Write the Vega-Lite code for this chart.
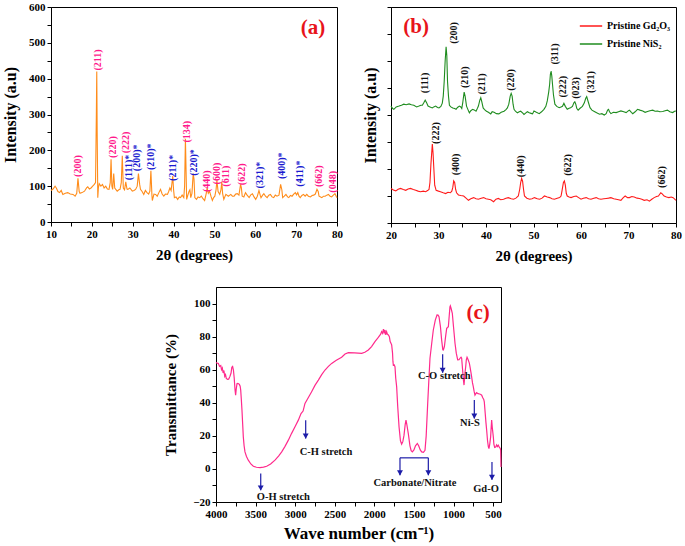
{
  "$schema": "https://vega.github.io/schema/vega-lite/v6.json",
  "padding": {"left": 2, "top": 0, "right": 0, "bottom": 2},
  "autosize": {"type": "pad"},
  "config": {
    "font": "Liberation Serif",
    "view": {"stroke": "#000", "strokeWidth": 1},
    "axis": {"domainColor": "#000", "tickColor": "#000", "tickSize": 4, "labelFont": "Liberation Serif", "labelFontWeight": "bold", "labelFontSize": 11, "labelColor": "#000", "titleFont": "Liberation Serif", "titleFontWeight": "bold", "titleColor": "#000", "grid": false, "labelPadding": 2, "labelOverlap": false, "labelFlush": false, "labelBound": false},
    "text": {"font": "Liberation Serif", "fontWeight": "bold"}
  },
  "resolve": {"scale": {"color": "independent"}, "legend": {"color": "independent"}},
  "datasets": {
    "xrdA": [
      {"t":10,"i":88},{"t":10.5,"i":92},{"t":11,"i":100},{"t":11.3,"i":95},{"t":11.7,"i":85},{"t":12.1,"i":82},{"t":12.5,"i":88},{"t":12.9,"i":77},{"t":13.5,"i":80},{"t":14.1,"i":82},{"t":14.7,"i":78},{"t":15.4,"i":77},{"t":15.9,"i":72},{"t":16.3,"i":80},{"t":16.6,"i":122},{"t":16.9,"i":85},{"t":17.1,"i":80},{"t":17.6,"i":82},{"t":18.2,"i":86},{"t":18.7,"i":95},{"t":19.0,"i":98},{"t":19.4,"i":92},{"t":19.8,"i":95},{"t":20.2,"i":100},{"t":20.6,"i":105},{"t":20.9,"i":110},{"t":21.1,"i":300},{"t":21.2,"i":420},{"t":21.3,"i":250},{"t":21.45,"i":68},{"t":21.6,"i":95},{"t":21.8,"i":107},{"t":22.2,"i":100},{"t":22.6,"i":105},{"t":23.0,"i":95},{"t":23.4,"i":100},{"t":23.8,"i":92},{"t":24.2,"i":91},{"t":24.5,"i":110},{"t":24.7,"i":175},{"t":24.9,"i":100},{"t":25.1,"i":91},{"t":25.35,"i":135},{"t":25.6,"i":95},{"t":26.2,"i":86},{"t":26.6,"i":90},{"t":26.9,"i":91},{"t":27.2,"i":110},{"t":27.45,"i":185},{"t":27.7,"i":95},{"t":28.0,"i":90},{"t":28.3,"i":112},{"t":28.6,"i":92},{"t":28.8,"i":91},{"t":29.3,"i":95},{"t":29.9,"i":86},{"t":30.3,"i":88},{"t":30.7,"i":91},{"t":31.1,"i":100},{"t":31.4,"i":135},{"t":31.7,"i":105},{"t":31.9,"i":91},{"t":32.3,"i":85},{"t":32.7,"i":77},{"t":33.1,"i":88},{"t":33.5,"i":82},{"t":33.9,"i":78},{"t":34.2,"i":86},{"t":34.45,"i":143},{"t":34.7,"i":75},{"t":34.8,"i":60},{"t":35.2,"i":78},{"t":35.6,"i":77},{"t":36.0,"i":72},{"t":36.4,"i":82},{"t":36.8,"i":91},{"t":37.2,"i":78},{"t":37.6,"i":72},{"t":38.0,"i":78},{"t":38.5,"i":77},{"t":38.8,"i":85},{"t":39.1,"i":95},{"t":39.4,"i":88},{"t":39.8,"i":128},{"t":40.0,"i":90},{"t":40.2,"i":68},{"t":40.6,"i":70},{"t":41.0,"i":63},{"t":41.4,"i":70},{"t":41.7,"i":68},{"t":42.1,"i":75},{"t":42.5,"i":68},{"t":42.7,"i":100},{"t":42.9,"i":232},{"t":43.1,"i":120},{"t":43.2,"i":63},{"t":43.5,"i":75},{"t":43.8,"i":86},{"t":44.0,"i":90},{"t":44.2,"i":68},{"t":44.5,"i":80},{"t":44.8,"i":135},{"t":45.0,"i":120},{"t":45.2,"i":68},{"t":45.6,"i":63},{"t":46.0,"i":70},{"t":46.4,"i":68},{"t":46.8,"i":72},{"t":47.2,"i":65},{"t":47.6,"i":60},{"t":48.0,"i":80},{"t":48.2,"i":95},{"t":48.5,"i":80},{"t":48.8,"i":86},{"t":49.2,"i":70},{"t":49.5,"i":60},{"t":49.8,"i":68},{"t":50.1,"i":72},{"t":50.4,"i":90},{"t":50.6,"i":116},{"t":50.9,"i":85},{"t":51.3,"i":77},{"t":51.6,"i":90},{"t":51.8,"i":112},{"t":52.0,"i":80},{"t":52.3,"i":63},{"t":52.8,"i":77},{"t":53.4,"i":72},{"t":54.0,"i":77},{"t":54.4,"i":72},{"t":54.8,"i":72},{"t":55.2,"i":78},{"t":55.6,"i":79},{"t":56.0,"i":75},{"t":56.4,"i":105},{"t":56.6,"i":95},{"t":56.8,"i":72},{"t":57.2,"i":70},{"t":57.6,"i":82},{"t":58.0,"i":75},{"t":58.5,"i":68},{"t":58.9,"i":76},{"t":59.3,"i":79},{"t":59.7,"i":70},{"t":60.1,"i":63},{"t":60.5,"i":72},{"t":60.9,"i":88},{"t":61.2,"i":75},{"t":61.4,"i":68},{"t":61.8,"i":75},{"t":62.1,"i":79},{"t":62.5,"i":72},{"t":62.9,"i":68},{"t":63.3,"i":75},{"t":63.7,"i":77},{"t":64.1,"i":70},{"t":64.5,"i":68},{"t":64.9,"i":75},{"t":65.3,"i":72},{"t":65.8,"i":75},{"t":66.2,"i":105},{"t":66.5,"i":90},{"t":66.7,"i":68},{"t":67.1,"i":72},{"t":67.5,"i":77},{"t":67.9,"i":70},{"t":68.2,"i":68},{"t":68.6,"i":74},{"t":69.0,"i":72},{"t":69.4,"i":78},{"t":69.8,"i":82},{"t":70.1,"i":76},{"t":70.4,"i":82},{"t":70.7,"i":72},{"t":71.0,"i":68},{"t":71.4,"i":74},{"t":71.8,"i":77},{"t":72.2,"i":72},{"t":72.6,"i":77},{"t":73.0,"i":72},{"t":73.5,"i":70},{"t":73.9,"i":74},{"t":74.3,"i":75},{"t":74.7,"i":78},{"t":75.1,"i":91},{"t":75.4,"i":85},{"t":75.6,"i":72},{"t":76.0,"i":70},{"t":76.3,"i":68},{"t":76.7,"i":72},{"t":77.1,"i":72},{"t":77.5,"i":75},{"t":77.9,"i":77},{"t":78.3,"i":72},{"t":78.7,"i":70},{"t":79.1,"i":75},{"t":79.5,"i":79},{"t":79.8,"i":72},{"t":80,"i":68}
    ],
    "labelsA": [
      {"hkl":"(200)","t":16.6,"i":156,"ph":"Gd"},{"hkl":"(211)","t":21.5,"i":452,"ph":"Gd"},{"hkl":"(220)","t":25.1,"i":209,"ph":"Gd"},{"hkl":"(222)","t":28.4,"i":222,"ph":"Gd"},{"hkl":"(111)*","t":29.2,"i":152,"ph":"Ni"},{"hkl":"(200)*","t":31.1,"i":179,"ph":"Ni"},{"hkl":"(210)*","t":34.5,"i":182,"ph":"Ni"},{"hkl":"(211)*","t":39.9,"i":151,"ph":"Ni"},{"hkl":"(134)","t":43.4,"i":252,"ph":"Gd"},{"hkl":"(220)*","t":45.1,"i":166,"ph":"Ni"},{"hkl":"(440)","t":48.2,"i":114,"ph":"Gd"},{"hkl":"(600)","t":50.7,"i":135,"ph":"Gd"},{"hkl":"(611)","t":52.9,"i":128,"ph":"Gd"},{"hkl":"(622)","t":56.8,"i":133,"ph":"Gd"},{"hkl":"(321)*","t":61.2,"i":131,"ph":"Ni"},{"hkl":"(400)*","t":66.5,"i":157,"ph":"Ni"},{"hkl":"(411)*","t":70.9,"i":135,"ph":"Ni"},{"hkl":"(662)","t":75.6,"i":128,"ph":"Gd"},{"hkl":"(048)","t":78.9,"i":112,"ph":"Gd"}
    ],
    "xrdB": [
      {"s":"Pristine Gd₂O₃","t":20,"i":128},{"s":"Pristine Gd₂O₃","t":20.5,"i":122},{"s":"Pristine Gd₂O₃","t":21.0,"i":119},{"s":"Pristine Gd₂O₃","t":21.5,"i":125},{"s":"Pristine Gd₂O₃","t":22.0,"i":128},{"s":"Pristine Gd₂O₃","t":22.6,"i":124},{"s":"Pristine Gd₂O₃","t":23.1,"i":121},{"s":"Pristine Gd₂O₃","t":23.6,"i":126},{"s":"Pristine Gd₂O₃","t":24.1,"i":128},{"s":"Pristine Gd₂O₃","t":24.7,"i":124},{"s":"Pristine Gd₂O₃","t":25.2,"i":121},{"s":"Pristine Gd₂O₃","t":25.7,"i":118},{"s":"Pristine Gd₂O₃","t":26.2,"i":116},{"s":"Pristine Gd₂O₃","t":26.8,"i":118},{"s":"Pristine Gd₂O₃","t":27.3,"i":116},{"s":"Pristine Gd₂O₃","t":27.7,"i":120},{"s":"Pristine Gd₂O₃","t":28.0,"i":124},{"s":"Pristine Gd₂O₃","t":28.2,"i":150},{"s":"Pristine Gd₂O₃","t":28.4,"i":217},{"s":"Pristine Gd₂O₃","t":28.7,"i":292},{"s":"Pristine Gd₂O₃","t":28.85,"i":260},{"s":"Pristine Gd₂O₃","t":29.0,"i":208},{"s":"Pristine Gd₂O₃","t":29.2,"i":140},{"s":"Pristine Gd₂O₃","t":29.5,"i":121},{"s":"Pristine Gd₂O₃","t":30.0,"i":118},{"s":"Pristine Gd₂O₃","t":30.4,"i":116},{"s":"Pristine Gd₂O₃","t":31.0,"i":112},{"s":"Pristine Gd₂O₃","t":31.5,"i":109},{"s":"Pristine Gd₂O₃","t":32.0,"i":114},{"s":"Pristine Gd₂O₃","t":32.5,"i":112},{"s":"Pristine Gd₂O₃","t":32.8,"i":118},{"s":"Pristine Gd₂O₃","t":33.0,"i":131},{"s":"Pristine Gd₂O₃","t":33.2,"i":156},{"s":"Pristine Gd₂O₃","t":33.4,"i":150},{"s":"Pristine Gd₂O₃","t":33.6,"i":125},{"s":"Pristine Gd₂O₃","t":33.8,"i":112},{"s":"Pristine Gd₂O₃","t":34.2,"i":104},{"s":"Pristine Gd₂O₃","t":34.7,"i":102},{"s":"Pristine Gd₂O₃","t":35.3,"i":100},{"s":"Pristine Gd₂O₃","t":35.8,"i":92},{"s":"Pristine Gd₂O₃","t":36.3,"i":84},{"s":"Pristine Gd₂O₃","t":36.8,"i":90},{"s":"Pristine Gd₂O₃","t":37.4,"i":94},{"s":"Pristine Gd₂O₃","t":37.9,"i":90},{"s":"Pristine Gd₂O₃","t":38.4,"i":88},{"s":"Pristine Gd₂O₃","t":39.0,"i":92},{"s":"Pristine Gd₂O₃","t":39.5,"i":94},{"s":"Pristine Gd₂O₃","t":40.0,"i":90},{"s":"Pristine Gd₂O₃","t":40.5,"i":88},{"s":"Pristine Gd₂O₃","t":41.0,"i":86},{"s":"Pristine Gd₂O₃","t":41.6,"i":79},{"s":"Pristine Gd₂O₃","t":42.1,"i":88},{"s":"Pristine Gd₂O₃","t":42.6,"i":91},{"s":"Pristine Gd₂O₃","t":43.1,"i":86},{"s":"Pristine Gd₂O₃","t":43.7,"i":88},{"s":"Pristine Gd₂O₃","t":44.2,"i":92},{"s":"Pristine Gd₂O₃","t":44.7,"i":94},{"s":"Pristine Gd₂O₃","t":45.3,"i":90},{"s":"Pristine Gd₂O₃","t":45.8,"i":88},{"s":"Pristine Gd₂O₃","t":46.3,"i":92},{"s":"Pristine Gd₂O₃","t":46.8,"i":100},{"s":"Pristine Gd₂O₃","t":47.1,"i":125},{"s":"Pristine Gd₂O₃","t":47.3,"i":150},{"s":"Pristine Gd₂O₃","t":47.5,"i":165},{"s":"Pristine Gd₂O₃","t":47.7,"i":155},{"s":"Pristine Gd₂O₃","t":47.9,"i":125},{"s":"Pristine Gd₂O₃","t":48.1,"i":100},{"s":"Pristine Gd₂O₃","t":48.6,"i":92},{"s":"Pristine Gd₂O₃","t":49.2,"i":88},{"s":"Pristine Gd₂O₃","t":49.7,"i":90},{"s":"Pristine Gd₂O₃","t":50.2,"i":94},{"s":"Pristine Gd₂O₃","t":50.8,"i":90},{"s":"Pristine Gd₂O₃","t":51.3,"i":88},{"s":"Pristine Gd₂O₃","t":51.8,"i":92},{"s":"Pristine Gd₂O₃","t":52.3,"i":100},{"s":"Pristine Gd₂O₃","t":52.9,"i":96},{"s":"Pristine Gd₂O₃","t":53.4,"i":94},{"s":"Pristine Gd₂O₃","t":53.9,"i":90},{"s":"Pristine Gd₂O₃","t":54.4,"i":88},{"s":"Pristine Gd₂O₃","t":55.0,"i":92},{"s":"Pristine Gd₂O₃","t":55.5,"i":94},{"s":"Pristine Gd₂O₃","t":55.8,"i":100},{"s":"Pristine Gd₂O₃","t":56.0,"i":119},{"s":"Pristine Gd₂O₃","t":56.3,"i":150},{"s":"Pristine Gd₂O₃","t":56.5,"i":156},{"s":"Pristine Gd₂O₃","t":56.7,"i":140},{"s":"Pristine Gd₂O₃","t":56.9,"i":110},{"s":"Pristine Gd₂O₃","t":57.1,"i":100},{"s":"Pristine Gd₂O₃","t":57.5,"i":96},{"s":"Pristine Gd₂O₃","t":57.9,"i":94},{"s":"Pristine Gd₂O₃","t":58.5,"i":98},{"s":"Pristine Gd₂O₃","t":59.0,"i":100},{"s":"Pristine Gd₂O₃","t":59.5,"i":94},{"s":"Pristine Gd₂O₃","t":60.0,"i":88},{"s":"Pristine Gd₂O₃","t":60.5,"i":92},{"s":"Pristine Gd₂O₃","t":61.1,"i":94},{"s":"Pristine Gd₂O₃","t":61.6,"i":90},{"s":"Pristine Gd₂O₃","t":62.1,"i":88},{"s":"Pristine Gd₂O₃","t":62.7,"i":92},{"s":"Pristine Gd₂O₃","t":63.2,"i":94},{"s":"Pristine Gd₂O₃","t":63.7,"i":90},{"s":"Pristine Gd₂O₃","t":64.2,"i":88},{"s":"Pristine Gd₂O₃","t":64.8,"i":90},{"s":"Pristine Gd₂O₃","t":65.3,"i":91},{"s":"Pristine Gd₂O₃","t":65.8,"i":92},{"s":"Pristine Gd₂O₃","t":66.3,"i":94},{"s":"Pristine Gd₂O₃","t":66.9,"i":90},{"s":"Pristine Gd₂O₃","t":67.4,"i":88},{"s":"Pristine Gd₂O₃","t":67.9,"i":86},{"s":"Pristine Gd₂O₃","t":68.4,"i":84},{"s":"Pristine Gd₂O₃","t":68.9,"i":94},{"s":"Pristine Gd₂O₃","t":69.3,"i":100},{"s":"Pristine Gd₂O₃","t":69.8,"i":94},{"s":"Pristine Gd₂O₃","t":70.2,"i":94},{"s":"Pristine Gd₂O₃","t":70.7,"i":98},{"s":"Pristine Gd₂O₃","t":71.2,"i":96},{"s":"Pristine Gd₂O₃","t":71.8,"i":92},{"s":"Pristine Gd₂O₃","t":72.3,"i":91},{"s":"Pristine Gd₂O₃","t":72.8,"i":88},{"s":"Pristine Gd₂O₃","t":73.3,"i":84},{"s":"Pristine Gd₂O₃","t":73.9,"i":86},{"s":"Pristine Gd₂O₃","t":74.4,"i":81},{"s":"Pristine Gd₂O₃","t":74.9,"i":88},{"s":"Pristine Gd₂O₃","t":75.4,"i":94},{"s":"Pristine Gd₂O₃","t":75.9,"i":98},{"s":"Pristine Gd₂O₃","t":76.3,"i":100},{"s":"Pristine Gd₂O₃","t":76.8,"i":112},{"s":"Pristine Gd₂O₃","t":77.1,"i":108},{"s":"Pristine Gd₂O₃","t":77.5,"i":100},{"s":"Pristine Gd₂O₃","t":78.0,"i":96},{"s":"Pristine Gd₂O₃","t":78.5,"i":94},{"s":"Pristine Gd₂O₃","t":79.0,"i":96},{"s":"Pristine Gd₂O₃","t":79.4,"i":94},{"s":"Pristine Gd₂O₃","t":80,"i":84},
      {"s":"Pristine NiS₂","t":20,"i":433},{"s":"Pristine NiS₂","t":20.3,"i":425},{"s":"Pristine NiS₂","t":20.6,"i":421},{"s":"Pristine NiS₂","t":21.1,"i":430},{"s":"Pristine NiS₂","t":21.7,"i":433},{"s":"Pristine NiS₂","t":22.2,"i":436},{"s":"Pristine NiS₂","t":22.7,"i":440},{"s":"Pristine NiS₂","t":23.2,"i":438},{"s":"Pristine NiS₂","t":23.8,"i":441},{"s":"Pristine NiS₂","t":24.3,"i":438},{"s":"Pristine NiS₂","t":24.8,"i":436},{"s":"Pristine NiS₂","t":25.4,"i":430},{"s":"Pristine NiS₂","t":25.9,"i":433},{"s":"Pristine NiS₂","t":26.3,"i":436},{"s":"Pristine NiS₂","t":26.6,"i":436},{"s":"Pristine NiS₂","t":26.9,"i":445},{"s":"Pristine NiS₂","t":27.2,"i":455},{"s":"Pristine NiS₂","t":27.5,"i":445},{"s":"Pristine NiS₂","t":27.8,"i":433},{"s":"Pristine NiS₂","t":28.2,"i":430},{"s":"Pristine NiS₂","t":28.7,"i":426},{"s":"Pristine NiS₂","t":29.0,"i":430},{"s":"Pristine NiS₂","t":29.4,"i":433},{"s":"Pristine NiS₂","t":29.8,"i":428},{"s":"Pristine NiS₂","t":30.1,"i":426},{"s":"Pristine NiS₂","t":30.5,"i":432},{"s":"Pristine NiS₂","t":30.8,"i":444},{"s":"Pristine NiS₂","t":31.0,"i":470},{"s":"Pristine NiS₂","t":31.2,"i":524},{"s":"Pristine NiS₂","t":31.4,"i":600},{"s":"Pristine NiS₂","t":31.6,"i":653},{"s":"Pristine NiS₂","t":31.75,"i":620},{"s":"Pristine NiS₂","t":31.9,"i":524},{"s":"Pristine NiS₂","t":32.1,"i":470},{"s":"Pristine NiS₂","t":32.3,"i":436},{"s":"Pristine NiS₂","t":32.6,"i":430},{"s":"Pristine NiS₂","t":33.0,"i":426},{"s":"Pristine NiS₂","t":33.4,"i":424},{"s":"Pristine NiS₂","t":33.7,"i":421},{"s":"Pristine NiS₂","t":34.0,"i":428},{"s":"Pristine NiS₂","t":34.4,"i":433},{"s":"Pristine NiS₂","t":34.7,"i":430},{"s":"Pristine NiS₂","t":34.9,"i":424},{"s":"Pristine NiS₂","t":35.1,"i":445},{"s":"Pristine NiS₂","t":35.4,"i":485},{"s":"Pristine NiS₂","t":35.6,"i":470},{"s":"Pristine NiS₂","t":35.9,"i":433},{"s":"Pristine NiS₂","t":36.2,"i":420},{"s":"Pristine NiS₂","t":36.5,"i":408},{"s":"Pristine NiS₂","t":36.8,"i":416},{"s":"Pristine NiS₂","t":37.2,"i":421},{"s":"Pristine NiS₂","t":37.6,"i":418},{"s":"Pristine NiS₂","t":37.9,"i":414},{"s":"Pristine NiS₂","t":38.2,"i":425},{"s":"Pristine NiS₂","t":38.4,"i":433},{"s":"Pristine NiS₂","t":38.7,"i":455},{"s":"Pristine NiS₂","t":38.9,"i":464},{"s":"Pristine NiS₂","t":39.1,"i":450},{"s":"Pristine NiS₂","t":39.4,"i":426},{"s":"Pristine NiS₂","t":39.7,"i":420},{"s":"Pristine NiS₂","t":40.1,"i":414},{"s":"Pristine NiS₂","t":40.5,"i":410},{"s":"Pristine NiS₂","t":41.0,"i":404},{"s":"Pristine NiS₂","t":41.3,"i":412},{"s":"Pristine NiS₂","t":41.7,"i":410},{"s":"Pristine NiS₂","t":42.2,"i":405},{"s":"Pristine NiS₂","t":42.7,"i":404},{"s":"Pristine NiS₂","t":43.2,"i":410},{"s":"Pristine NiS₂","t":43.8,"i":414},{"s":"Pristine NiS₂","t":44.2,"i":420},{"s":"Pristine NiS₂","t":44.5,"i":426},{"s":"Pristine NiS₂","t":44.8,"i":440},{"s":"Pristine NiS₂","t":45.1,"i":470},{"s":"Pristine NiS₂","t":45.3,"i":480},{"s":"Pristine NiS₂","t":45.5,"i":470},{"s":"Pristine NiS₂","t":45.7,"i":440},{"s":"Pristine NiS₂","t":45.9,"i":421},{"s":"Pristine NiS₂","t":46.2,"i":414},{"s":"Pristine NiS₂","t":46.6,"i":408},{"s":"Pristine NiS₂","t":47.0,"i":412},{"s":"Pristine NiS₂","t":47.3,"i":414},{"s":"Pristine NiS₂","t":47.7,"i":408},{"s":"Pristine NiS₂","t":48.0,"i":402},{"s":"Pristine NiS₂","t":48.4,"i":408},{"s":"Pristine NiS₂","t":48.7,"i":412},{"s":"Pristine NiS₂","t":49.1,"i":408},{"s":"Pristine NiS₂","t":49.5,"i":406},{"s":"Pristine NiS₂","t":49.8,"i":404},{"s":"Pristine NiS₂","t":50.1,"i":415},{"s":"Pristine NiS₂","t":50.6,"i":410},{"s":"Pristine NiS₂","t":51.2,"i":405},{"s":"Pristine NiS₂","t":51.7,"i":412},{"s":"Pristine NiS₂","t":52.2,"i":421},{"s":"Pristine NiS₂","t":52.6,"i":432},{"s":"Pristine NiS₂","t":52.9,"i":452},{"s":"Pristine NiS₂","t":53.2,"i":485},{"s":"Pristine NiS₂","t":53.4,"i":514},{"s":"Pristine NiS₂","t":53.55,"i":550},{"s":"Pristine NiS₂","t":53.7,"i":563},{"s":"Pristine NiS₂","t":53.85,"i":545},{"s":"Pristine NiS₂","t":54.0,"i":514},{"s":"Pristine NiS₂","t":54.2,"i":475},{"s":"Pristine NiS₂","t":54.5,"i":440},{"s":"Pristine NiS₂","t":54.9,"i":432},{"s":"Pristine NiS₂","t":55.4,"i":427},{"s":"Pristine NiS₂","t":55.8,"i":430},{"s":"Pristine NiS₂","t":56.1,"i":432},{"s":"Pristine NiS₂","t":56.4,"i":443},{"s":"Pristine NiS₂","t":56.7,"i":432},{"s":"Pristine NiS₂","t":57.1,"i":421},{"s":"Pristine NiS₂","t":57.5,"i":425},{"s":"Pristine NiS₂","t":57.8,"i":427},{"s":"Pristine NiS₂","t":58.2,"i":432},{"s":"Pristine NiS₂","t":58.5,"i":445},{"s":"Pristine NiS₂","t":58.7,"i":449},{"s":"Pristine NiS₂","t":58.9,"i":440},{"s":"Pristine NiS₂","t":59.1,"i":425},{"s":"Pristine NiS₂","t":59.4,"i":418},{"s":"Pristine NiS₂","t":59.8,"i":425},{"s":"Pristine NiS₂","t":60.3,"i":432},{"s":"Pristine NiS₂","t":60.7,"i":445},{"s":"Pristine NiS₂","t":61.0,"i":462},{"s":"Pristine NiS₂","t":61.2,"i":468},{"s":"Pristine NiS₂","t":61.5,"i":450},{"s":"Pristine NiS₂","t":61.9,"i":427},{"s":"Pristine NiS₂","t":62.3,"i":418},{"s":"Pristine NiS₂","t":62.8,"i":413},{"s":"Pristine NiS₂","t":63.3,"i":408},{"s":"Pristine NiS₂","t":63.9,"i":403},{"s":"Pristine NiS₂","t":64.4,"i":405},{"s":"Pristine NiS₂","t":64.9,"i":400},{"s":"Pristine NiS₂","t":65.3,"i":405},{"s":"Pristine NiS₂","t":65.6,"i":418},{"s":"Pristine NiS₂","t":65.8,"i":421},{"s":"Pristine NiS₂","t":66.0,"i":412},{"s":"Pristine NiS₂","t":66.3,"i":405},{"s":"Pristine NiS₂","t":66.8,"i":410},{"s":"Pristine NiS₂","t":67.4,"i":409},{"s":"Pristine NiS₂","t":67.9,"i":412},{"s":"Pristine NiS₂","t":68.4,"i":415},{"s":"Pristine NiS₂","t":69.0,"i":412},{"s":"Pristine NiS₂","t":69.5,"i":409},{"s":"Pristine NiS₂","t":70.0,"i":416},{"s":"Pristine NiS₂","t":70.2,"i":418},{"s":"Pristine NiS₂","t":70.6,"i":410},{"s":"Pristine NiS₂","t":70.9,"i":405},{"s":"Pristine NiS₂","t":71.4,"i":412},{"s":"Pristine NiS₂","t":71.9,"i":421},{"s":"Pristine NiS₂","t":72.4,"i":418},{"s":"Pristine NiS₂","t":73.0,"i":415},{"s":"Pristine NiS₂","t":73.5,"i":410},{"s":"Pristine NiS₂","t":74.0,"i":413},{"s":"Pristine NiS₂","t":74.5,"i":416},{"s":"Pristine NiS₂","t":75.1,"i":418},{"s":"Pristine NiS₂","t":75.6,"i":414},{"s":"Pristine NiS₂","t":76.1,"i":415},{"s":"Pristine NiS₂","t":76.6,"i":412},{"s":"Pristine NiS₂","t":77.2,"i":413},{"s":"Pristine NiS₂","t":77.7,"i":416},{"s":"Pristine NiS₂","t":78.2,"i":418},{"s":"Pristine NiS₂","t":78.7,"i":412},{"s":"Pristine NiS₂","t":79.3,"i":409},{"s":"Pristine NiS₂","t":79.7,"i":414},{"s":"Pristine NiS₂","t":80,"i":415}
    ],
    "labelsB": [
      {"hkl":"(111)","t":27.2,"i":519},{"hkl":"(200)","t":33.2,"i":704},{"hkl":"(210)","t":35.5,"i":540},{"hkl":"(211)","t":39.1,"i":515},{"hkl":"(220)","t":45.2,"i":530},{"hkl":"(311)","t":54.5,"i":626},{"hkl":"(222)","t":56.2,"i":505},{"hkl":"(023)","t":58.9,"i":500},{"hkl":"(321)","t":62.0,"i":522},
      {"hkl":"(222)","t":29.4,"i":333},{"hkl":"(400)","t":33.6,"i":217},{"hkl":"(440)","t":47.3,"i":210},{"hkl":"(622)","t":57.2,"i":215},{"hkl":"(662)","t":77.1,"i":170}
    ],
    "ftir": [
      {"w":4000,"T":64.4},{"w":3985,"T":64},{"w":3970,"T":63.8},{"w":3955,"T":62},{"w":3940,"T":62.5},{"w":3930,"T":60},{"w":3920,"T":61},{"w":3910,"T":58},{"w":3900,"T":59.5},{"w":3890,"T":56},{"w":3880,"T":57},{"w":3870,"T":54.7},{"w":3855,"T":54.2},{"w":3840,"T":54.3},{"w":3825,"T":55.8},{"w":3810,"T":58},{"w":3800,"T":61.5},{"w":3790,"T":62},{"w":3780,"T":59.8},{"w":3770,"T":55},{"w":3760,"T":48},{"w":3752,"T":44.6},{"w":3745,"T":48},{"w":3735,"T":51.5},{"w":3726,"T":51.7},{"w":3715,"T":51.5},{"w":3705,"T":51.1},{"w":3695,"T":50},{"w":3688,"T":47.7},{"w":3680,"T":42},{"w":3672,"T":35.6},{"w":3663,"T":27},{"w":3655,"T":19.4},{"w":3645,"T":14},{"w":3634,"T":10.3},{"w":3615,"T":7.5},{"w":3592,"T":5.3},{"w":3560,"T":3},{"w":3528,"T":1.6},{"w":3490,"T":1},{"w":3444,"T":0.8},{"w":3400,"T":1.1},{"w":3360,"T":1.6},{"w":3310,"T":3},{"w":3255,"T":5.3},{"w":3210,"T":7.8},{"w":3170,"T":10.3},{"w":3130,"T":13.5},{"w":3086,"T":17.4},{"w":3045,"T":21.5},{"w":3002,"T":25.5},{"w":2960,"T":29.5},{"w":2926,"T":33.5},{"w":2900,"T":35},{"w":2876,"T":39.6},{"w":2835,"T":43},{"w":2792,"T":46.7},{"w":2750,"T":50.5},{"w":2707,"T":53.7},{"w":2665,"T":57},{"w":2623,"T":59.8},{"w":2580,"T":62},{"w":2539,"T":63.8},{"w":2480,"T":65.7},{"w":2413,"T":67.5},{"w":2370,"T":69.5},{"w":2328,"T":70.3},{"w":2250,"T":70.2},{"w":2160,"T":69.9},{"w":2120,"T":70.5},{"w":2076,"T":71.9},{"w":2035,"T":74},{"w":1992,"T":77},{"w":1950,"T":79.5},{"w":1920,"T":81.5},{"w":1908,"T":83},{"w":1895,"T":82},{"w":1885,"T":84.5},{"w":1875,"T":82.5},{"w":1865,"T":84},{"w":1855,"T":81},{"w":1845,"T":83},{"w":1835,"T":81.5},{"w":1823,"T":81},{"w":1810,"T":80},{"w":1800,"T":77},{"w":1790,"T":76},{"w":1781,"T":75},{"w":1770,"T":70},{"w":1765,"T":65},{"w":1760,"T":62.8},{"w":1750,"T":63},{"w":1739,"T":61.8},{"w":1730,"T":55},{"w":1718,"T":49.7},{"w":1705,"T":38},{"w":1688,"T":25.5},{"w":1670,"T":17},{"w":1655,"T":15},{"w":1640,"T":16.5},{"w":1625,"T":20.4},{"w":1610,"T":27},{"w":1600,"T":29.5},{"w":1590,"T":27},{"w":1571,"T":21.4},{"w":1550,"T":14},{"w":1535,"T":11},{"w":1520,"T":10.3},{"w":1500,"T":11.5},{"w":1480,"T":14},{"w":1457,"T":15.4},{"w":1440,"T":14},{"w":1420,"T":11.5},{"w":1402,"T":10.3},{"w":1380,"T":10},{"w":1360,"T":11.3},{"w":1345,"T":20},{"w":1326,"T":39.6},{"w":1310,"T":55},{"w":1297,"T":66.9},{"w":1275,"T":76},{"w":1255,"T":84},{"w":1230,"T":90},{"w":1208,"T":93.1},{"w":1195,"T":93},{"w":1183,"T":92.1},{"w":1165,"T":86},{"w":1150,"T":78},{"w":1135,"T":72},{"w":1128,"T":71.9},{"w":1115,"T":74},{"w":1100,"T":80},{"w":1086,"T":85},{"w":1075,"T":85.5},{"w":1065,"T":86},{"w":1055,"T":92},{"w":1045,"T":98},{"w":1040,"T":98.6},{"w":1030,"T":97},{"w":1015,"T":94.1},{"w":1000,"T":86},{"w":981,"T":76},{"w":965,"T":70},{"w":947,"T":65.9},{"w":930,"T":66},{"w":918,"T":66.9},{"w":905,"T":67.5},{"w":897,"T":66.9},{"w":885,"T":60},{"w":875,"T":54},{"w":867,"T":50.7},{"w":860,"T":55},{"w":855,"T":58},{"w":846,"T":61.8},{"w":838,"T":66},{"w":829,"T":67.5},{"w":815,"T":66},{"w":800,"T":64},{"w":792,"T":61.8},{"w":775,"T":57},{"w":760,"T":52},{"w":750,"T":49.7},{"w":740,"T":47},{"w":729,"T":44.6},{"w":718,"T":45.5},{"w":708,"T":46.1},{"w":690,"T":45.5},{"w":670,"T":45.3},{"w":655,"T":45},{"w":644,"T":44.6},{"w":630,"T":43},{"w":618,"T":42},{"w":611,"T":40.6},{"w":600,"T":34},{"w":590,"T":28},{"w":581,"T":23.4},{"w":570,"T":17},{"w":560,"T":13.5},{"w":552,"T":12.3},{"w":542,"T":15},{"w":531,"T":19.4},{"w":524,"T":25},{"w":518,"T":29.5},{"w":510,"T":25},{"w":503,"T":22},{"w":497,"T":19.4},{"w":490,"T":15},{"w":480,"T":13},{"w":467,"T":13.3},{"w":455,"T":14.5},{"w":445,"T":13.5},{"w":434,"T":14.3},{"w":420,"T":13},{"w":410,"T":12.5},{"w":404,"T":11.3},{"w":400,"T":1.2}
    ],
    "arrows": [
      {"w":3435,"T":-2.8,"T2":-12.9},{"w":2867,"T":29.5,"T2":18.4},{"w":1676,"T":6.7,"T2":-3.8},{"w":1318,"T":6.7,"T2":-3.8},{"w":1137,"T":69.3,"T2":58.2},{"w":737,"T":41.6,"T2":30.5},{"w":514,"T":4.2,"T2":-6.5}
    ],
    "tips": [
      {"w":3435,"T":-11.5},{"w":2867,"T":19.8},{"w":1676,"T":-2.4},{"w":1318,"T":-2.4},{"w":1137,"T":59.6},{"w":737,"T":31.9},{"w":514,"T":-5.1}
    ],
    "notes": [
      {"txt":"O-H stretch","w":3150,"T":-17},{"txt":"C-H stretch","w":2610,"T":10.3},{"txt":"Carbonate/Nitrate","w":1487,"T":-8.3},{"txt":"C-O stretch","w":1116,"T":56.3},{"txt":"Ni-S","w":792,"T":27.5},{"txt":"Gd-O","w":590,"T":-12.3}
    ]
  },
  "vconcat": [
    {
      "resolve": {"scale": {"color": "independent"}, "legend": {"color": "independent"}},
      "hconcat": [
        {
          "width": 286, "height": 215,
          "layer": [
            {
              "data": {"name": "xrdA"},
              "mark": {"type": "line", "color": "#ff8c1a", "strokeWidth": 1.1},
              "encoding": {
                "x": {"field": "t", "type": "quantitative", "scale": {"domain": [10, 80], "nice": false}, "axis": {"title": "2θ (degrees)", "titleFontSize": 15, "titlePadding": 8, "format": "d", "tickCount": 100, "labelOverlap": false, "values": [10,15,20,25,30,35,40,45,50,55,60,65,70,75,80], "labelExpr": "datum.value % 10 === 0 ? datum.label : ''"}},
                "y": {"field": "i", "type": "quantitative", "scale": {"domain": [0, 600], "nice": false}, "axis": {"title": "Intensity (a.u)", "titleFontSize": 16, "titlePadding": 10, "format": "d", "tickCount": 100, "labelOverlap": false, "values": [0,50,100,150,200,250,300,350,400,450,500,550,600], "labelExpr": "datum.value % 100 === 0 ? datum.label : ''"}}
              }
            },
            {
              "data": {"name": "labelsA"},
              "mark": {"type": "text", "angle": 270, "fontSize": 10, "align": "center", "baseline": "middle"},
              "encoding": {
                "x": {"field": "t", "type": "quantitative"},
                "y": {"field": "i", "type": "quantitative"},
                "text": {"field": "hkl"},
                "color": {"field": "ph", "type": "nominal", "scale": {"domain": ["Gd", "Ni"], "range": ["#ff1a8c", "#1a1ad0"]}, "legend": null}
              }
            },
            {
              "data": {"values": [{"t": 74.1, "i": 541, "txt": "(a)"}]},
              "mark": {"type": "text", "fontSize": 21, "color": "#e8141a", "align": "center", "baseline": "middle"},
              "encoding": {"x": {"field": "t", "type": "quantitative"}, "y": {"field": "i", "type": "quantitative"}, "text": {"field": "txt"}}
            }
          ]
        },
        {
          "width": 285, "height": 216,
          "layer": [
            {
              "data": {"name": "xrdB"},
              "mark": {"type": "line", "strokeWidth": 1.1},
              "encoding": {
                "x": {"field": "t", "type": "quantitative", "scale": {"domain": [20, 80], "nice": false}, "axis": {"title": "2θ (degrees)", "titleFontSize": 15, "titlePadding": 8, "format": "d", "tickCount": 100, "labelOverlap": false, "values": [20,25,30,35,40,45,50,55,60,65,70,75,80], "labelExpr": "datum.value % 10 === 0 ? datum.label : ''"}},
                "y": {"field": "i", "type": "quantitative", "scale": {"domain": [0, 800], "nice": false}, "axis": {"title": "Intensity (a.u)", "titleFontSize": 16, "titlePadding": 8, "labels": false, "tickCount": 100, "labelOverlap": false, "values": [0,100,200,300,400,500,600,700,800]}},
                "color": {"field": "s", "type": "nominal", "scale": {"domain": ["Pristine Gd₂O₃", "Pristine NiS₂"], "range": ["#ff1a1a", "#1f8c1f"]}, "legend": {"title": null, "orient": "none", "legendX": 188, "legendY": 7, "labelFont": "Liberation Serif", "labelFontWeight": "bold", "labelFontSize": 10, "labelColor": "#000", "labelOffset": 4, "symbolType": "stroke", "symbolStrokeWidth": 1.5, "symbolSize": 500, "rowPadding": 1, "padding": 0}}
              }
            },
            {
              "data": {"name": "labelsB"},
              "mark": {"type": "text", "angle": 270, "fontSize": 10, "align": "center", "baseline": "middle", "color": "#111"},
              "encoding": {
                "x": {"field": "t", "type": "quantitative"},
                "y": {"field": "i", "type": "quantitative"},
                "text": {"field": "hkl"}
              }
            },
            {
              "data": {"values": [{"t": 25.3, "i": 726, "txt": "(b)"}]},
              "mark": {"type": "text", "fontSize": 21, "color": "#e8141a", "align": "center", "baseline": "middle"},
              "encoding": {"x": {"field": "t", "type": "quantitative"}, "y": {"field": "i", "type": "quantitative"}, "text": {"field": "txt"}}
            }
          ]
        }
      ],
      "spacing": 19
    },
    {
      "hconcat": [
        {"width": 112, "height": 215, "data": {"values": [{}]}, "mark": {"type": "point", "opacity": 0}, "encoding": {}, "view": {"stroke": null}},
        {
          "width": 285, "height": 215,
          "layer": [
            {
              "data": {"name": "ftir"},
              "mark": {"type": "line", "color": "#ff2a8c", "strokeWidth": 1.2},
              "encoding": {
                "x": {"field": "w", "type": "quantitative", "scale": {"domain": [400, 4000], "reverse": true, "nice": false}, "axis": {"title": "Wave number (cm⁻¹)", "titleFontSize": 17, "titlePadding": 6, "format": "d", "tickCount": 100, "labelOverlap": false, "values": [500,750,1000,1250,1500,1750,2000,2250,2500,2750,3000,3250,3500,3750,4000], "labelExpr": "datum.value % 500 === 0 ? datum.label : ''"}},
                "y": {"field": "T", "type": "quantitative", "scale": {"domain": [-20, 110], "nice": false}, "axis": {"title": "Transmittance (%)", "titleFontSize": 15, "titlePadding": 14, "format": "d", "tickCount": 100, "labelOverlap": false, "values": [-20,-10,0,10,20,30,40,50,60,70,80,90,100], "labelExpr": "datum.value % 20 === 0 ? datum.label : ''"}},
                "order": {"field": "w", "type": "quantitative", "sort": "descending"}
              }
            },
            {
              "data": {"name": "arrows"},
              "mark": {"type": "rule", "color": "#1c1ca8", "strokeWidth": 1.2},
              "encoding": {"x": {"field": "w", "type": "quantitative"}, "y": {"field": "T", "type": "quantitative"}, "y2": {"field": "T2"}}
            },
            {
              "data": {"values": [{"w": 1676, "w2": 1318, "T": 6.7}]},
              "mark": {"type": "rule", "color": "#1c1ca8", "strokeWidth": 1.2},
              "encoding": {"x": {"field": "w", "type": "quantitative"}, "x2": {"field": "w2"}, "y": {"field": "T", "type": "quantitative"}}
            },
            {
              "data": {"name": "tips"},
              "mark": {"type": "point", "shape": "triangle-down", "filled": true, "color": "#1c1ca8", "opacity": 1, "size": 35},
              "encoding": {"x": {"field": "w", "type": "quantitative"}, "y": {"field": "T", "type": "quantitative"}}
            },
            {
              "data": {"name": "notes"},
              "mark": {"type": "text", "fontSize": 10.5, "color": "#111", "align": "center", "baseline": "middle"},
              "encoding": {"x": {"field": "w", "type": "quantitative"}, "y": {"field": "T", "type": "quantitative"}, "text": {"field": "txt"}}
            },
            {
              "data": {"values": [{"w": 690, "T": 94.5, "txt": "(c)"}]},
              "mark": {"type": "text", "fontSize": 21, "color": "#e8141a", "align": "center", "baseline": "middle"},
              "encoding": {"x": {"field": "w", "type": "quantitative"}, "y": {"field": "T", "type": "quantitative"}, "text": {"field": "txt"}}
            }
          ]
        }
      ],
      "spacing": 0
    }
  ],
  "spacing": 22
}
